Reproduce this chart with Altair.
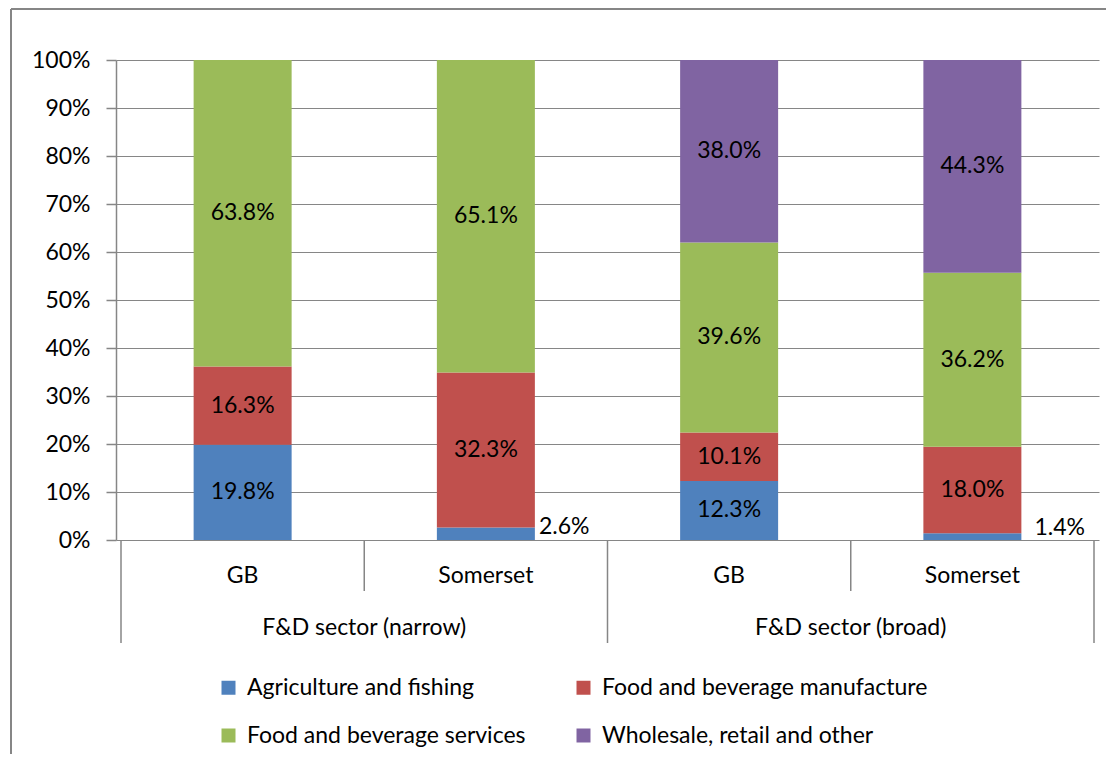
import altair as alt
import pandas as pd

groups = ["F&D sector (narrow)", "F&D sector (narrow)", "F&D sector (broad)", "F&D sector (broad)"]
areas = ["GB", "Somerset", "GB", "Somerset"]
series = ["Agriculture and fishing", "Food and beverage manufacture",
          "Food and beverage services", "Wholesale, retail and other"]
colors = ["#4F81BD", "#C0504D", "#9BBB59", "#8064A2"]
agri = [19.8, 2.6, 12.3, 1.4]
manu = [16.3, 32.3, 10.1, 18.0]
serv = [63.8, 65.1, 39.6, 36.2]
whole = [0.0, 0.0, 38.0, 44.3]
y_ticks = [0, 0.1, 0.2, 0.3, 0.4, 0.5, 0.6, 0.7, 0.8, 0.9, 1.0]

FONT = "Lato"
FS = 23
GRAY = "#868686"

rows = []
for i in range(len(areas)):
    for k, vals in enumerate([agri, manu, serv, whole]):
        if vals[i] > 0:
            rows.append({"pos": i + 0.5, "idx": i, "group": groups[i], "area": areas[i],
                         "series": series[k], "order": k, "value": vals[i],
                         "label": f"{vals[i]:.1f}%"})
df = pd.DataFrame(rows)

cats = pd.DataFrame({"pos": [i + 0.5 for i in range(len(areas))], "area": areas})
grp = pd.DataFrame({"pos": [1.0, 3.0], "group": [groups[0], groups[2]]})
seps = pd.DataFrame({"b": [0, 1, 2, 3, 4], "long": [1, 0, 1, 0, 1]})

xs = alt.Scale(domain=[0, 4])
ys = alt.Scale(domain=[0, 1])

base = alt.Chart(df).transform_stack(
    stack="value", groupby=["pos"], as_=["y0", "y1"], offset="normalize",
    sort=[alt.SortField("order", order="ascending")]
).transform_calculate(mid="(datum.y0 + datum.y1) / 2")

bars = base.mark_bar(width=98).encode(
    x=alt.X("pos:Q", scale=xs, axis=None),
    y=alt.Y("y0:Q", scale=ys, title=None,
            axis=alt.Axis(values=y_ticks, format=".0%", tickSize=10, tickColor=GRAY,
                          domainColor=GRAY, gridColor=GRAY, grid=True, labelFontSize=FS,
                          labelFont=FONT, labelColor="black", labelPadding=16)),
    y2="y1:Q",
    color=alt.Color("series:N", scale=alt.Scale(domain=series, range=colors),
                    legend=alt.Legend(title=None, orient="none", legendX=101, legendY=616,
                                      columns=2, direction="horizontal",
                                      symbolType="square", symbolSize=196,
                                      symbolStrokeWidth=0, labelFontSize=FS, labelFont=FONT,
                                      labelColor="black", columnPadding=46, rowPadding=24,
                                      labelOffset=7, labelLimit=400)),
)

labels = base.transform_filter("datum.value >= 5").mark_text(
    fontSize=FS, font=FONT, color="black", baseline="middle").encode(
    x=alt.X("pos:Q", scale=xs), y=alt.Y("mid:Q", scale=ys), text="label:N")

small1 = base.transform_filter("datum.value < 5 && datum.idx == 1").mark_text(
    fontSize=FS, font=FONT, color="black", baseline="middle", align="left", dx=53, dy=-7).encode(
    x=alt.X("pos:Q", scale=xs), y=alt.Y("mid:Q", scale=ys), text="label:N")
small3 = base.transform_filter("datum.value < 5 && datum.idx == 3").mark_text(
    fontSize=FS, font=FONT, color="black", baseline="middle", align="left", dx=62, dy=-9).encode(
    x=alt.X("pos:Q", scale=xs), y=alt.Y("mid:Q", scale=ys), text="label:N")

sep_long = alt.Chart(seps).transform_filter("datum.long == 1").mark_rule(
    color=GRAY, strokeWidth=1.5).encode(
    x=alt.X("b:Q", scale=xs), y=alt.value(480), y2=alt.value(583))
sep_short = alt.Chart(seps).transform_filter("datum.long == 0").mark_rule(
    color=GRAY, strokeWidth=1.5).encode(
    x=alt.X("b:Q", scale=xs), y=alt.value(480), y2=alt.value(531))

cat_text = alt.Chart(cats).mark_text(fontSize=FS, font=FONT, color="black", baseline="middle").encode(
    x=alt.X("pos:Q", scale=xs), y=alt.value(516), text="area:N")

grp_text = alt.Chart(grp).mark_text(fontSize=FS, font=FONT, color="black", baseline="middle").encode(
    x=alt.X("pos:Q", scale=xs), y=alt.value(568), text="group:N")

frame_l = alt.Chart(cats).mark_rule(color=GRAY, strokeWidth=1.5).encode(
    x=alt.value(-105), y=alt.value(-51), y2=alt.value(720))
frame_t = alt.Chart(cats).mark_rule(color=GRAY, strokeWidth=1.5).encode(
    x=alt.value(-105), x2=alt.value(990), y=alt.value(-51))

chart = alt.layer(frame_l, frame_t, bars, labels, small1, small3, sep_long, sep_short,
                  cat_text, grp_text).properties(
    width=983, height=480,
    padding={"left": 108, "top": 52, "right": 9, "bottom": 214},
    autosize=alt.AutoSizeParams(type="none"),
).configure_view(stroke=None).configure_axis(gridWidth=1.2, domainWidth=1.5, tickWidth=1.5)

chart.save("out.html", embed_options={"renderer": "svg", "actions": False})
